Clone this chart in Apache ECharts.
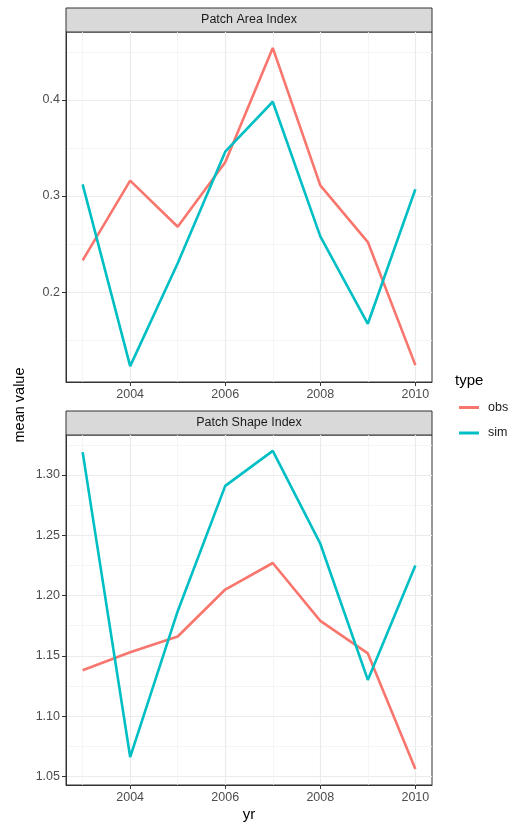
<!DOCTYPE html>
<html>
<head>
<meta charset="utf-8">
<script src="https://cdn.jsdelivr.net/npm/echarts@6/dist/echarts.min.js"></script>
<style>
  html, body { margin: 0; padding: 0; background: #fff; }
  #chart { width: 518px; height: 825px; }
</style>
</head>
<body>
<div id="chart"></div>
<script>
// data
var years = [2003, 2004, 2005, 2006, 2007, 2008, 2009, 2010];
var areaObs = [0.233, 0.316, 0.268, 0.335, 0.454, 0.311, 0.252, 0.124];
var areaSim = [0.312, 0.123, 0.230, 0.346, 0.398, 0.258, 0.167, 0.307];
var shapeObs = [1.138, 1.153, 1.166, 1.205, 1.227, 1.179, 1.152, 1.056];
var shapeSim = [1.319, 1.066, 1.187, 1.291, 1.320, 1.243, 1.130, 1.225];

var xTicks = [2004, 2006, 2008, 2010];
var xMinor = [2003, 2005, 2007, 2009];
var areaTicks = [0.2, 0.3, 0.4];
var areaMinor = [0.15, 0.25, 0.35, 0.45];
var shapeTicks = [1.05, 1.10, 1.15, 1.20, 1.25, 1.30];
var shapeMinor = [1.075, 1.125, 1.175, 1.225, 1.275, 1.325];

var COL_OBS = '#F8766D', COL_SIM = '#00BFC4';
var FONT = 'Liberation Sans';

// ggplot-like 5% expansion
function expand(arr){
	var lo = Math.min.apply(null, arr), hi = Math.max.apply(null, arr);
	var d = (hi - lo) * 0.05;
	return [lo - d, hi + d];
}
var xLim = expand(years);
var areaLim = expand(areaObs.concat(areaSim));
var shapeLim = expand(shapeObs.concat(shapeSim));

function pairs(vals){
	return years.map(function(y, i){ return [y, vals[i]]; });
}

function mainX(idx){
	return {
		type: 'value', gridIndex: idx, min: xLim[0], max: xLim[1],
		axisLine: { show: true, onZero: false, lineStyle: { color: '#333', width: 1 } },
		axisTick: { show: true, length: 4, customValues: xTicks, lineStyle: { color: '#333' } },
		axisLabel: { customValues: xTicks, color: '#4D4D4D', fontSize: 12.5, fontFamily: FONT, margin: 6,
			formatter: function(v){ return String(v); } },
		splitLine: { show: true, lineStyle: { color: '#EBEBEB', width: 1.2 } }
	};
}
function minorX(idx){
	return {
		type: 'value', gridIndex: idx, min: xLim[0], max: xLim[1],
		axisLine: { show: false }, axisLabel: { show: false },
		axisTick: { show: false, customValues: xMinor },
		splitLine: { show: true, lineStyle: { color: '#F2F2F2', width: 0.8 } }
	};
}
function mainY(idx, lim, ticks, digits){
	return {
		type: 'value', gridIndex: idx, min: lim[0], max: lim[1],
		axisLine: { show: true, onZero: false, lineStyle: { color: '#333', width: 1 } },
		axisTick: { show: true, length: 4, customValues: ticks, lineStyle: { color: '#333' } },
		axisLabel: { customValues: ticks, color: '#4D4D4D', fontSize: 12.5, fontFamily: FONT, margin: 6,
			formatter: function(v){ return v.toFixed(digits); } },
		splitLine: { show: true, lineStyle: { color: '#EBEBEB', width: 1.2 } }
	};
}
function minorY(idx, lim, ticks){
	return {
		type: 'value', gridIndex: idx, min: lim[0], max: lim[1],
		axisLine: { show: false }, axisLabel: { show: false },
		axisTick: { show: false, customValues: ticks },
		splitLine: { show: true, lineStyle: { color: '#F2F2F2', width: 0.8 } }
	};
}
function line(name, vals, xi, yi, color){
	return {
		name: name, type: 'line', xAxisIndex: xi, yAxisIndex: yi,
		data: pairs(vals), symbol: 'none', silent: true,
		lineStyle: { color: color, width: 2.6 }, itemStyle: { color: color },
		z: 5
	};
}

var chart = echarts.init(document.getElementById('chart'));
var option = {
	backgroundColor: '#fff',
	animation: false,
	grid: [
		{ left: 66, top: 32, width: 366, height: 350, show: true, borderColor: '#333', borderWidth: 1, backgroundColor: '#fff' },
		{ left: 66, top: 435, width: 366, height: 350, show: true, borderColor: '#333', borderWidth: 1, backgroundColor: '#fff' }
	],
	xAxis: [ mainX(0), minorX(0), mainX(1), minorX(1) ],
	yAxis: [
		mainY(0, areaLim, areaTicks, 1), minorY(0, areaLim, areaMinor),
		mainY(1, shapeLim, shapeTicks, 2), minorY(1, shapeLim, shapeMinor)
	],
	legend: {
		orient: 'vertical', left: 454, top: 396,
		data: ['obs', 'sim'],
		icon: 'rect', itemWidth: 20, itemHeight: 3, itemGap: 12.5,
		textStyle: { color: '#222', fontSize: 12.5, fontFamily: FONT, padding: [0, 0, 0, 4] },
		selectedMode: false
	},
	series: [
		line('obs', areaObs, 0, 0, COL_OBS),
		line('sim', areaSim, 0, 0, COL_SIM),
		line('obs', shapeObs, 2, 2, COL_OBS),
		line('sim', shapeSim, 2, 2, COL_SIM)
	],
	graphic: [
		// facet strips
		{ type: 'rect', shape: { x: 66, y: 8, width: 366, height: 24 },
		  style: { fill: '#D9D9D9', stroke: '#333', lineWidth: 1 } },
		{ type: 'text', x: 249, y: 20,
		  style: { text: 'Patch Area Index', fill: '#1A1A1A', fontSize: 12.5, fontFamily: FONT, align: 'center', verticalAlign: 'middle' } },
		{ type: 'rect', shape: { x: 66, y: 411, width: 366, height: 24 },
		  style: { fill: '#D9D9D9', stroke: '#333', lineWidth: 1 } },
		{ type: 'text', x: 249, y: 423,
		  style: { text: 'Patch Shape Index', fill: '#1A1A1A', fontSize: 12.5, fontFamily: FONT, align: 'center', verticalAlign: 'middle' } },
		// axis titles
		{ type: 'text', x: 20, y: 405, rotation: Math.PI / 2,
		  style: { text: 'mean value', fill: '#000', fontSize: 14.5, fontFamily: FONT, align: 'center', verticalAlign: 'middle' } },
		{ type: 'text', x: 249, y: 815,
		  style: { text: 'yr', fill: '#000', fontSize: 15, fontFamily: FONT, align: 'center', verticalAlign: 'middle' } },
		// legend title
		{ type: 'text', x: 455, y: 381,
		  style: { text: 'type', fill: '#000', fontSize: 15, fontFamily: FONT, align: 'left', verticalAlign: 'middle' } }
	]
};
chart.setOption(option);
</script>
</body>
</html>
